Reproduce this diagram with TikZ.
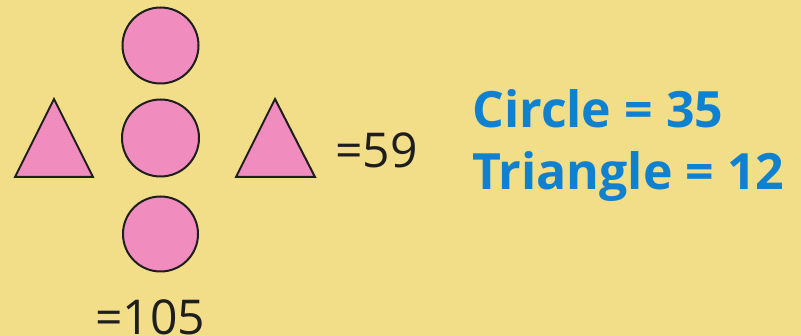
\documentclass[tikz,border=0pt]{standalone}
\usepackage{fontspec}
\setmainfont{Open Sans}
\definecolor{bg}{RGB}{242,222,136}
\definecolor{pinkfill}{RGB}{240,140,190}
\definecolor{bluetext}{RGB}{16,128,208}
\definecolor{outline}{RGB}{30,30,30}
\tikzset{
  shapefill/.style={fill=pinkfill,draw=outline,line width=2pt},
  sumlabel/.style={inner sep=0pt,anchor=base west,text=outline,font=\fontsize{48}{48}\selectfont},
  answer/.style={inner sep=0pt,anchor=base west,text=bluetext,font=\bfseries\fontsize{50}{50}\selectfont}
}
\begin{document}
\begin{tikzpicture}[x=1pt,y=-1pt]
\useasboundingbox (0,0) rectangle (801,336);
\clip (0,0) rectangle (801,336);
\fill[bg] (0,0) rectangle (801,336);
\node[shapefill,circle,minimum size=76pt,inner sep=0pt] (c1) at (160.5,45.5) {};
\node[shapefill,circle,minimum size=77pt,inner sep=0pt] (c2) at (160.5,138) {};
\node[shapefill,circle,minimum size=75pt,inner sep=0pt] (c3) at (160.5,234) {};
\draw[shapefill,line join=miter] (15,177) -- (54,99) -- (93,177) -- cycle;
\draw[shapefill,line join=miter] (236,177) -- (275,99) -- (315,177) -- cycle;
\node[sumlabel] (s59) at (335,168) {=59};
\node[sumlabel] (s105) at (95,335) {=105};
\node[answer] (a1) at (472,128) {Circle = 35};
\node[answer] (a2) at (472,190) {Triangle = 12};
\end{tikzpicture}
\end{document}
